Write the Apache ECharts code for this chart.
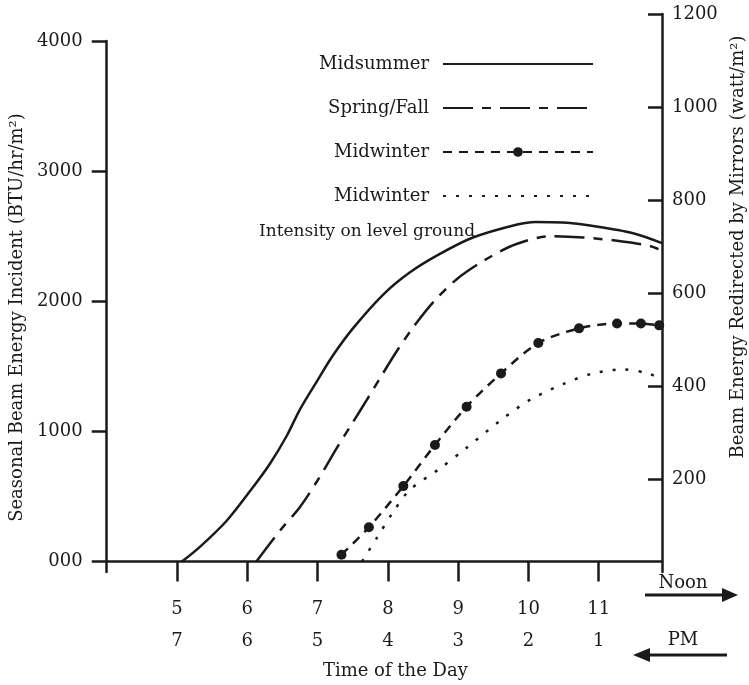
<!DOCTYPE html>
<html><head><meta charset="utf-8">
<script src="https://cdn.jsdelivr.net/npm/echarts@6/dist/echarts.min.js"></script>
<style>html,body{margin:0;padding:0;background:#fff}#c{width:749px;height:685px}</style>
</head><body><div id="c"></div>
<script>
const FONT = '"DejaVu Serif", "Liberation Serif", serif';
const INK = '#1a1a1a';
const FS = 18;

// x axis: morning hour ticks and matching afternoon hour labels
const morningTicks = [5, 6, 7, 8, 9, 10, 11];
const afternoonLabels = ['7', '6', '5', '4', '3', '2', '1'];
// left axis (BTU/hr/m2)
const leftTicks = [0, 1000, 2000, 3000, 4000];
const leftTickLabels = ['000', '1000', '2000', '3000', '4000'];
// right axis (watt/m2)
const rightTicks = [200, 400, 600, 800, 1000, 1200];

// series (hour of day, BTU/hr/m2)
const midsummerHours = [5.07, 5.33, 5.71, 6.04, 6.32, 6.56, 6.75, 6.99, 7.22, 7.50, 7.93, 8.31, 8.74, 9.21, 9.84, 10.10, 10.49, 10.92, 11.49, 11.90];
const midsummerValues = [0, 115, 316, 542, 750, 965, 1170, 1385, 1585, 1790, 2050, 2221, 2364, 2490, 2590, 2610, 2605, 2578, 2523, 2447];

const springHours = [6.13, 6.47, 6.75, 7.03, 7.27, 7.50, 7.70, 7.93, 8.13, 8.36, 8.64, 8.98, 9.41, 9.83, 10.31, 10.78, 11.26, 11.73, 11.90];
const springValues = [0, 241, 420, 650, 870, 1069, 1242, 1446, 1620, 1800, 1990, 2170, 2327, 2440, 2500, 2490, 2465, 2425, 2387];

const winterDotHours = [7.34, 7.73, 8.22, 8.67, 9.12, 9.61, 10.14, 10.72, 11.26, 11.60, 11.86];
const winterDotValues = [53, 264, 580, 896, 1190, 1446, 1679, 1792, 1830, 1830, 1815];

const winterGroundHours = [7.63, 7.85, 8.07, 8.31, 8.74, 9.10, 9.62, 10.02, 10.52, 10.92, 11.34, 11.70, 11.90];
const winterGroundValues = [0, 188, 377, 550, 715, 866, 1092, 1242, 1370, 1446, 1476, 1446, 1401];

const zip = (a, b) => a.map((v, i) => [v, b[i]]);
const txt = (size) => ({ fontFamily: FONT, fontSize: size, color: INK });
const noDot = { color: 'rgba(0,0,0,0)', borderWidth: 0 };

const chart = echarts.init(document.getElementById('c'), null, { renderer: 'canvas' });
chart.setOption({
  backgroundColor: '#fff',
  animation: false,
  title: {
    text: 'Intensity on level ground', left: 254, top: 218,
    textStyle: { fontFamily: FONT, fontSize: 17, fontWeight: 'normal', color: INK }
  },
  legend: {
    data: [
      { name: 'Midsummer', itemStyle: noDot },
      { name: 'Spring/Fall', itemStyle: noDot },
      { name: 'Midwinter' },
      { name: 'Midwinter ', itemStyle: noDot }
    ],
    orient: 'vertical', right: 150, top: 49, align: 'right',
    itemWidth: 150, itemHeight: 12, itemGap: 24,
    formatter: n => n.trim(),
    textStyle: { fontFamily: FONT, fontSize: FS, color: INK, lineHeight: 20, padding: [0, 9, 0, 0] },
    inactiveColor: INK
  },
  grid: [
    { left: 104, right: 87, top: 41, bottom: 101.4 },
    { left: 104, right: 87, top: 14, bottom: 113 }
  ],
  xAxis: [{
    type: 'value', gridIndex: 0, min: 4, max: 11.9,
    axisLine: { onZero: true, lineStyle: { color: INK, width: 2.5 } },
    axisTick: { customValues: morningTicks, length: 20, inside: false, lineStyle: { color: INK, width: 2.5 } },
    axisLabel: {
      customValues: morningTicks, margin: 21, lineHeight: 32, ...txt(FS),
      formatter: v => v + '\n' + afternoonLabels[morningTicks.indexOf(v)]
    },
    splitLine: { show: false },
    name: 'Time of the Day', nameLocation: 'middle', nameGap: 90,
    nameTextStyle: { ...txt(FS), padding: [0, 0, 0, 22] }
  }, {
    type: 'value', gridIndex: 1, min: 4, max: 11.9, show: false
  }],
  yAxis: [{
    type: 'value', gridIndex: 0, position: 'left', min: -80, max: 4000,
    axisLine: { show: true, lineStyle: { color: INK, width: 2.5 } },
    axisTick: { show: true, customValues: leftTicks, length: 15, lineStyle: { color: INK, width: 2.5 } },
    axisLabel: { customValues: leftTicks, margin: 24, ...txt(FS),
      formatter: v => leftTickLabels[leftTicks.indexOf(v)] },
    splitLine: { show: false },
    name: 'Seasonal Beam Energy Incident (BTU/hr/m²)', nameLocation: 'middle', nameRotate: 90, nameGap: 72,
    nameTextStyle: { ...txt(FS), padding: [0, 22, 0, 0] }
  }, {
    type: 'value', gridIndex: 1, position: 'right', min: 0, max: 1200,
    axisLine: { show: true, lineStyle: { color: INK, width: 2.5 } },
    axisTick: { show: true, inside: true, customValues: rightTicks, length: 14, lineStyle: { color: INK, width: 2.5 } },
    axisLabel: { customValues: rightTicks, margin: 10, ...txt(FS), formatter: v => String(v) },
    splitLine: { show: false }
  }],
  series: [{
    name: 'Midsummer', type: 'line', xAxisIndex: 0, yAxisIndex: 0,
    data: zip(midsummerHours, midsummerValues), smooth: 0.3, showSymbol: false, symbol: 'none',
    lineStyle: { color: INK, width: 2.5 }, itemStyle: { color: INK }
  }, {
    name: 'Spring/Fall', type: 'line', xAxisIndex: 0, yAxisIndex: 0,
    data: zip(springHours, springValues), smooth: 0.3, showSymbol: false, symbol: 'none',
    lineStyle: { color: INK, width: 2.5, type: [30, 9, 9, 9] }, itemStyle: { color: INK }
  }, {
    name: 'Midwinter', type: 'line', xAxisIndex: 0, yAxisIndex: 0,
    data: zip(winterDotHours, winterDotValues), smooth: 0.3, symbol: 'circle', symbolSize: 10,
    lineStyle: { color: INK, width: 2.5, type: [9, 7] }, itemStyle: { color: INK }
  }, {
    name: 'Midwinter ', type: 'line', xAxisIndex: 0, yAxisIndex: 0,
    data: zip(winterGroundHours, winterGroundValues), smooth: 0.3, showSymbol: false, symbol: 'none',
    lineStyle: { color: INK, width: 2.5, type: [3, 10] }, itemStyle: { color: INK }
  }],
  graphic: [
    { type: 'text', x: 738, y: 247, rotation: Math.PI / 2,
      style: { text: 'Beam Energy Redirected by Mirrors (watt/m²)', font: FS + 'px ' + FONT, fill: INK, align: 'center', verticalAlign: 'middle' } },
    { type: 'text', x: 683, y: 583,
      style: { text: 'Noon', font: FS + 'px ' + FONT, fill: INK, align: 'center', verticalAlign: 'middle' } },
    { type: 'line', shape: { x1: 645, y1: 595, x2: 726, y2: 595 }, style: { stroke: INK, lineWidth: 3 } },
    { type: 'polygon', shape: { points: [[722, 588], [738, 595], [722, 602]] }, style: { fill: INK } },
    { type: 'text', x: 683, y: 640,
      style: { text: 'PM', font: FS + 'px ' + FONT, fill: INK, align: 'center', verticalAlign: 'middle' } },
    { type: 'line', shape: { x1: 646, y1: 655, x2: 727, y2: 655 }, style: { stroke: INK, lineWidth: 3 } },
    { type: 'polygon', shape: { points: [[650, 648], [633, 655], [650, 662]] }, style: { fill: INK } }
  ]
});
</script></body></html>
